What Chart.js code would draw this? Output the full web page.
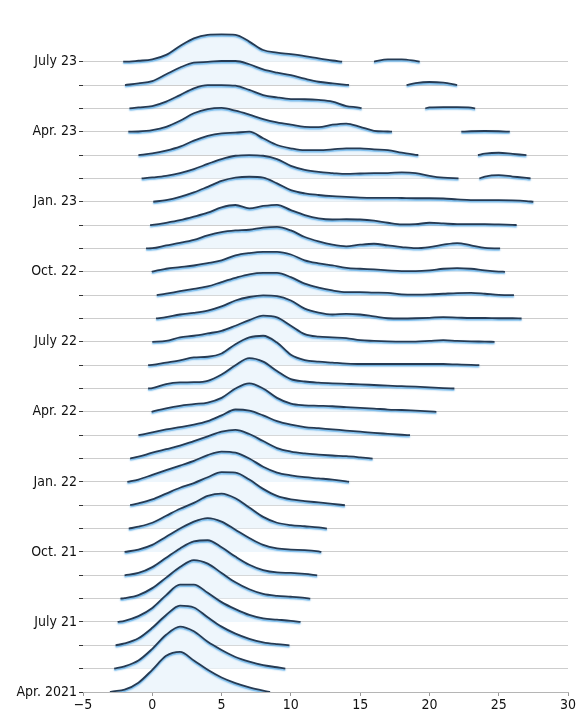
<!DOCTYPE html>
<html>
<head>
<meta charset="utf-8">
<script src="https://cdn.jsdelivr.net/npm/chart.js@4.4.1/dist/chart.umd.min.js"></script>
<style>
  html, body { margin: 0; padding: 0; background: #fff; }
</style>
</head>
<body>
<canvas id="ridges" width="579" height="720"></canvas>
<script>
const months = ["Apr. 2021", "May 21", "June 21", "July 21", "Aug. 21", "Sep. 21", "Oct. 21", "Nov. 21", "Dec. 21",
    "Jan. 22", "Feb. 22", "Mar. 22", "Apr. 22", "May 22", "June 22", "July 22", "Aug. 22", "Sep. 22", "Oct. 22",
    "Nov. 22", "Dec. 22", "Jan. 23", "Feb. 23", "Mar. 23", "Apr. 23", "May 23", "June 23", "July 23"];

const tickLabels = ["Apr. 2021", "", "", "July 21", "", "", "Oct. 21", "", "", "Jan. 22", "", "", "Apr. 22", "", "",
    "July 22", "", "", "Oct. 22", "", "", "Jan. 23", "", "", "Apr. 23", "", "", "July 23"];

// where each month's curve begins and ends on the x axis
const rowStart = [-3.05, -2.75, -2.65, -2.5, -2.3, -2.0, -2.0, -1.7, -1.6, -1.8, -1.6, -1.0, -0.05, -0.3,
    -0.3, 0.0, 0.27, 0.32, -0.04, -0.45, -0.16, 0.07, -0.77, -1.0, -1.73, -1.65, -1.97, -2.1];
const rowEnd = [8.5, 9.6, 9.9, 10.7, 11.4, 11.9, 12.2, 12.6, 13.9, 14.2, 15.9, 18.6, 20.5, 21.8,
    23.6, 24.7, 26.65, 26.1, 25.45, 25.1, 26.3, 27.5, 27.3, 27.0, 25.8, 23.3, 22.0, 19.3];

// empty stretches in the recent months
const gapFrom = [null, null, null, null, null, null, null, null, null, null, null, null, null, null,
    null, null, null, null, null, null, null, null, 22.1, 19.2, 17.3, 15.1, 14.2, 13.7];
const gapTo = [null, null, null, null, null, null, null, null, null, null, null, null, null, null,
    null, null, null, null, null, null, null, null, 23.6, 23.5, 22.3, 19.7, 18.35, 16.0];

// density heights at whole numbers, first value at floor(start) + 1
const rowHeights = [
    [0.01, 0.1, 0.4, 0.95, 1.55, 1.72, 1.35, 0.95, 0.62, 0.38, 0.2, 0.06],
    [0.1, 0.35, 0.85, 1.45, 1.8, 1.6, 1.15, 0.8, 0.5, 0.3, 0.15, 0.06],
    [0.08, 0.3, 0.75, 1.3, 1.7, 1.62, 1.2, 0.8, 0.5, 0.28, 0.13, 0.05],
    [0.05, 0.25, 0.6, 1.15, 1.6, 1.6, 1.25, 0.85, 0.55, 0.3, 0.15, 0.1, 0.05],
    [0.02, 0.15, 0.45, 0.9, 1.35, 1.65, 1.5, 1.1, 0.7, 0.4, 0.2, 0.12, 0.08, 0.03],
    [0.1, 0.35, 0.75, 1.15, 1.45, 1.5, 1.2, 0.8, 0.45, 0.22, 0.12, 0.1, 0.06],
    [0.1, 0.3, 0.65, 1.0, 1.3, 1.45, 1.3, 0.95, 0.6, 0.3, 0.15, 0.1, 0.08, 0.02],
    [0.08, 0.25, 0.55, 0.85, 1.1, 1.4, 1.5, 1.3, 0.9, 0.5, 0.25, 0.15, 0.1, 0.05],
    [0.08, 0.25, 0.5, 0.75, 0.95, 1.2, 1.42, 1.4, 1.1, 0.7, 0.4, 0.25, 0.18, 0.12, 0.06],
    [0.1, 0.3, 0.5, 0.7, 0.9, 1.15, 1.3, 1.25, 1.0, 0.65, 0.4, 0.28, 0.2, 0.15, 0.1, 0.02],
    [0.08, 0.25, 0.4, 0.55, 0.75, 0.95, 1.15, 1.23, 1.05, 0.75, 0.45, 0.3, 0.22, 0.17, 0.13, 0.1, 0.05],
    [0.12, 0.25, 0.35, 0.45, 0.6, 0.85, 1.1, 1.05, 0.85, 0.6, 0.45, 0.35, 0.3, 0.25, 0.2, 0.15, 0.1, 0.06, 0.02],
    [0.01, 0.15, 0.26, 0.33, 0.4, 0.6, 1.0, 1.22, 1.0, 0.6, 0.35, 0.28, 0.26, 0.24, 0.2, 0.17, 0.14, 0.1, 0.08, 0.05, 0.02],
    [0.02, 0.19, 0.26, 0.27, 0.33, 0.6, 1.0, 1.3, 1.15, 0.75, 0.4, 0.3, 0.25, 0.22, 0.2, 0.18, 0.15, 0.12, 0.1, 0.08, 0.05, 0.02],
    [0.01, 0.11, 0.21, 0.33, 0.36, 0.5, 0.9, 1.19, 1.26, 0.97, 0.45, 0.22, 0.15, 0.11, 0.07, 0.05, 0.05, 0.05, 0.05, 0.05, 0.05, 0.05, 0.03, 0.01],
    [0.04, 0.19, 0.26, 0.36, 0.47, 0.69, 0.93, 1.12, 1.05, 0.69, 0.33, 0.22, 0.19, 0.16, 0.07, 0.04, 0.02, 0.01, 0.01, 0.04, 0.07, 0.04, 0.02, 0.01],
    [0.06, 0.17, 0.24, 0.34, 0.52, 0.77, 0.92, 0.99, 0.96, 0.77, 0.42, 0.25, 0.17, 0.2, 0.17, 0.09, 0.01, 0.0, 0.01, 0.03, 0.06, 0.04, 0.02, 0.02, 0.01, 0.01],
    [0.06, 0.17, 0.27, 0.37, 0.56, 0.74, 0.89, 0.95, 0.95, 0.77, 0.49, 0.32, 0.2, 0.13, 0.13, 0.11, 0.1, 0.03, 0.02, 0.03, 0.06, 0.09, 0.1, 0.06, 0.01, 0.0],
    [0.01, 0.13, 0.2, 0.27, 0.37, 0.49, 0.7, 0.8, 0.85, 0.85, 0.74, 0.49, 0.36, 0.27, 0.17, 0.13, 0.1, 0.06, 0.03, 0.03, 0.06, 0.13, 0.16, 0.13, 0.06, 0.01],
    [0.01, 0.13, 0.24, 0.37, 0.56, 0.7, 0.77, 0.8, 0.89, 0.92, 0.77, 0.49, 0.3, 0.16, 0.09, 0.16, 0.2, 0.13, 0.06, 0.01, 0.06, 0.16, 0.23, 0.13, 0.02, 0.0],
    [0.01, 0.1, 0.21, 0.36, 0.53, 0.76, 0.86, 0.72, 0.82, 0.87, 0.64, 0.43, 0.29, 0.24, 0.25, 0.24, 0.19, 0.1, 0.03, 0.04, 0.1, 0.07, 0.04, 0.04, 0.04, 0.03, 0.01],
    [0.07, 0.21, 0.4, 0.64, 0.89, 1.03, 1.07, 1.03, 0.79, 0.5, 0.36, 0.29, 0.24, 0.21, 0.18, 0.17, 0.17, 0.16, 0.15, 0.15, 0.14, 0.1, 0.07, 0.07, 0.07, 0.06, 0.03],
    [0.04, 0.11, 0.23, 0.4, 0.62, 0.83, 0.97, 1.0, 0.97, 0.83, 0.54, 0.37, 0.28, 0.23, 0.19, 0.21, 0.23, 0.23, 0.26, 0.23, 0.11, 0.03, null, null, 0.08, 0.14, 0.08, 0.02],
    [0.07, 0.19, 0.36, 0.62, 0.82, 0.93, 0.96, 1.0, 0.72, 0.43, 0.29, 0.21, 0.21, 0.24, 0.29, 0.29, 0.24, 0.21, 0.1, 0.01, null, null, null, null, 0.06, 0.1, 0.05],
    [0.01, 0.07, 0.21, 0.47, 0.79, 0.97, 1.02, 0.9, 0.73, 0.54, 0.4, 0.3, 0.21, 0.2, 0.3, 0.35, 0.21, 0.04, 0.01, null, null, null, null, null, 0.02, 0.03, 0.02],
    [0.04, 0.1, 0.29, 0.57, 0.86, 1.0, 1.0, 0.97, 0.79, 0.57, 0.47, 0.4, 0.39, 0.36, 0.29, 0.1, 0.02, null, null, null, null, 0.04, 0.05, 0.05, 0.03],
    [0.07, 0.17, 0.46, 0.75, 0.96, 0.99, 1.03, 1.03, 0.89, 0.67, 0.53, 0.42, 0.27, 0.14, 0.07, 0.01, null, null, null, null, 0.08, 0.13, 0.1],
    [0.0, 0.04, 0.1, 0.29, 0.67, 1.0, 1.15, 1.17, 1.15, 0.86, 0.5, 0.39, 0.32, 0.24, 0.14, 0.05, null, null, null, 0.1, 0.1, 0.03]
];

function buildRow(i) {
    const pts = [{ x: rowStart[i], y: i }, { x: rowEnd[i], y: i }];
    const first = Math.floor(rowStart[i]) + 1;
    rowHeights[i].forEach((h, j) => {
        const x = first + j;
        if (h === null || x <= rowStart[i] || x >= rowEnd[i]) return;
        if (gapFrom[i] !== null && x >= gapFrom[i] && x <= gapTo[i]) return;
        pts.push({ x: x, y: i + h });
    });
    if (gapFrom[i] !== null) {
        pts.push({ x: gapFrom[i], y: i }, { x: (gapFrom[i] + gapTo[i]) / 2, y: null }, { x: gapTo[i], y: i });
    }
    return pts.sort((a, b) => a.x - b.x);
}

// blue glow under each curve
const glow = {
    id: 'glow',
    beforeDatasetDraw(chart) {
        const ctx = chart.ctx;
        ctx.save();
        ctx.shadowColor = 'rgba(45,150,225,0.75)';
        ctx.shadowOffsetY = 1.5;
        ctx.shadowBlur = 1.5;
    },
    afterDatasetDraw(chart) { chart.ctx.restore(); }
};

Chart.defaults.font.family = "'DejaVu Sans Condensed', 'Liberation Sans Narrow', sans-serif";
Chart.defaults.font.size = 14;
Chart.defaults.color = '#111';

new Chart(document.getElementById('ridges'), {
    type: 'line',
    data: {
        datasets: months.map((m, i) => ({
            label: m,
            data: buildRow(i),
            borderColor: '#263a52',
            borderWidth: 1.8,
            backgroundColor: '#eef6fc',
            fill: { value: i },
            pointRadius: 0,
            cubicInterpolationMode: 'monotone',
            spanGaps: false
        }))
    },
    options: {
        responsive: false,
        animation: false,
        events: [],
        layout: { padding: { top: 29, right: 11, left: 0, bottom: 0 } },
        plugins: { legend: { display: false }, tooltip: { enabled: false } },
        scales: {
            x: {
                type: 'linear', min: -5, max: 30,
                ticks: { stepSize: 5, padding: 1, color: '#111', callback: v => v < 0 ? '\u2212' + Math.abs(v) : String(v) },
                grid: { drawOnChartArea: false, tickLength: 4, tickColor: '#999' },
                border: { color: '#b5b5b5' },
                afterFit: s => { s.height = 28; }
            },
            y: {
                type: 'linear', min: 0, max: 28.4,
                afterBuildTicks: s => { s.ticks = months.map((m, i) => ({ value: i })); },
                ticks: { autoSkip: false, padding: 2, color: '#111', callback: (v, idx) => tickLabels[idx] },
                grid: { color: '#cdcdcd', lineWidth: 1, tickColor: '#333', tickLength: 4 },
                border: { display: false },
                afterFit: s => { s.width = 83; }
            }
        }
    },
    plugins: [glow]
});
</script>
</body>
</html>
